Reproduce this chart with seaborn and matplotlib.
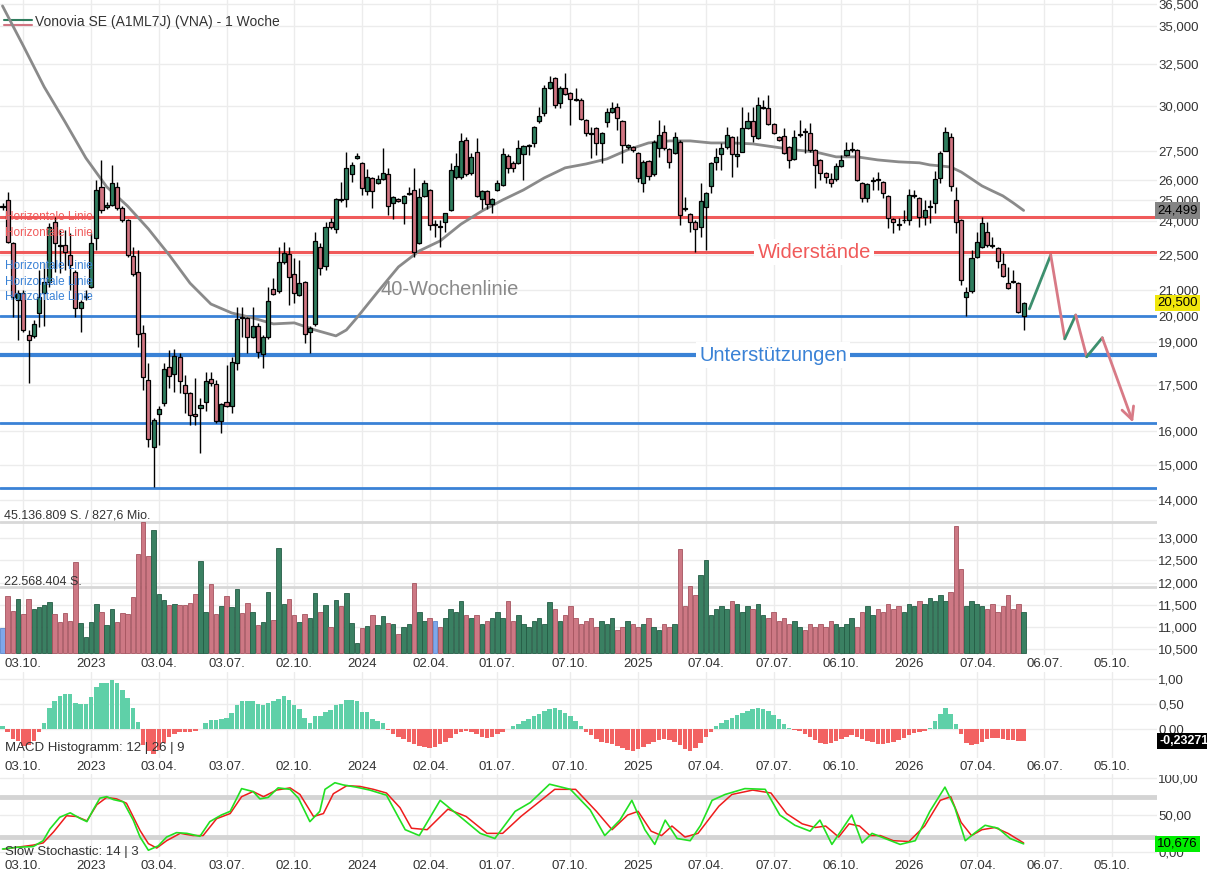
import numpy as np
import pandas as pd
import matplotlib
matplotlib.use("Agg")
import matplotlib.pyplot as plt
import matplotlib.transforms as mtransforms
from matplotlib.ticker import FixedLocator, FuncFormatter, NullLocator
import seaborn as sns

sns.set_style("white")
plt.rcParams['font.family'] = ['Liberation Sans', 'DejaVu Sans']

# weekly candles, first week starts 2022-09-05
START = pd.Timestamp("2022-09-05")

opens = [
    24.68, 25.00, 23.00, 20.61, 20.89, 19.26, 19.24, 20.09, 20.88, 21.35,
    23.97, 22.92, 22.92, 22.48, 21.77, 20.28, 20.72, 21.14, 23.22, 25.65,
    24.65, 24.76, 25.65, 24.60, 24.05, 22.44, 21.77, 19.35, 17.66, 15.53,
    16.53, 16.88, 18.10, 17.87, 18.47, 17.49, 17.21, 16.53, 16.72, 16.94,
    17.68, 17.52, 16.33, 16.94, 16.80, 18.24, 19.94, 19.90, 19.20, 19.61,
    18.57, 19.18, 21.04, 20.98, 22.17, 22.51, 21.66, 20.81, 21.32, 19.39,
    19.66, 22.85, 22.01, 23.94, 23.62, 25.02, 25.03, 26.29, 27.10, 26.84,
    25.44, 26.08, 25.82, 26.03, 26.27, 24.84, 25.03, 24.84, 25.30, 25.49,
    23.02, 25.20, 25.49, 23.82, 23.76, 23.97, 24.52, 26.13, 26.13, 28.07,
    26.32, 27.41, 25.03, 25.44, 24.79, 25.49, 25.74, 27.23, 26.87, 26.84,
    27.31, 27.73, 27.89, 29.09, 29.56, 31.02, 31.63, 30.14, 31.06, 30.72,
    30.35, 30.33, 29.18, 28.46, 28.71, 27.89, 29.05, 29.62, 29.91, 29.09,
    27.68, 27.68, 27.36, 25.85, 26.96, 26.27, 27.63, 28.52, 27.58, 27.36,
    27.98, 24.59, 24.33, 23.97, 23.74, 24.68, 25.69, 26.92, 27.33, 27.68,
    28.22, 27.20, 27.45, 28.71, 29.12, 28.16, 29.86, 29.88, 28.94, 28.22,
    28.26, 27.68, 27.05, 28.32, 28.54, 28.44, 27.54, 27.01, 26.35, 26.03,
    26.03, 26.70, 27.27, 27.52, 27.54, 25.85, 25.08, 25.92, 26.01, 25.90,
    25.20, 24.10, 23.88, 24.03, 24.05, 25.18, 25.08, 24.20, 24.66, 24.84,
    26.08, 27.50, 28.22, 25.00, 24.05, 20.74, 20.98, 22.41, 22.85, 23.51,
    22.91, 22.77, 22.09, 21.28, 21.37, 21.28, 19.99,
]
highs = [
    24.86, 25.41, 23.05, 21.01, 21.01, 19.45, 19.83, 21.84, 22.14, 23.91,
    24.20, 23.59, 23.59, 23.45, 21.84, 20.61, 21.01, 23.45, 25.99, 27.01,
    24.90, 26.75, 25.90, 24.70, 24.10, 22.85, 22.70, 19.64, 18.25, 16.40,
    16.80, 18.25, 18.71, 18.74, 18.60, 17.83, 17.25, 17.73, 17.06, 17.95,
    17.95, 17.66, 16.90, 18.18, 18.47, 20.35, 20.35, 19.95, 20.35, 19.70,
    19.25, 21.14, 21.49, 22.85, 23.07, 22.85, 22.35, 22.27, 21.40, 19.60,
    23.51, 23.00, 23.97, 24.13, 25.10, 25.90, 27.45, 26.90, 27.36, 26.90,
    26.53, 26.15, 26.24, 27.63, 26.58, 25.20, 25.10, 25.25, 25.65, 26.58,
    25.57, 25.99, 25.55, 24.05, 24.05, 24.40, 26.84, 27.36, 28.47, 28.22,
    27.36, 28.16, 25.50, 25.50, 25.10, 25.99, 27.63, 27.30, 26.95, 28.07,
    27.80, 27.85, 28.85, 29.94, 31.22, 31.73, 31.70, 31.15, 31.93, 30.80,
    31.02, 30.43, 29.25, 28.80, 28.80, 28.50, 29.85, 30.23, 30.17, 29.15,
    27.85, 27.75, 27.45, 27.00, 27.00, 28.07, 29.18, 28.90, 27.65, 28.52,
    28.05, 25.16, 24.40, 24.05, 25.85, 25.40, 26.90, 27.63, 27.89, 28.80,
    28.30, 28.26, 29.94, 29.65, 29.94, 30.52, 30.33, 30.62, 29.00, 28.30,
    28.71, 27.75, 28.62, 29.18, 28.71, 29.00, 27.60, 27.05, 26.40, 26.32,
    26.84, 27.27, 27.98, 27.98, 27.60, 25.90, 25.85, 26.15, 26.40, 25.95,
    25.25, 24.15, 24.13, 24.52, 25.53, 25.49, 25.15, 25.00, 25.00, 26.44,
    27.50, 28.80, 28.44, 25.62, 24.10, 21.14, 22.70, 23.51, 24.17, 23.97,
    23.29, 22.85, 22.56, 21.98, 21.84, 21.35, 20.55,
]
lows = [
    24.52, 23.01, 19.96, 19.08, 19.38, 17.55, 19.15, 19.58, 19.60, 21.14,
    21.77, 21.71, 21.84, 21.01, 19.96, 19.39, 20.61, 21.10, 22.70, 24.40,
    24.55, 24.70, 24.50, 23.95, 22.41, 21.60, 18.83, 17.32, 15.53, 14.37,
    15.58, 16.80, 17.39, 17.26, 17.22, 16.57, 16.20, 16.20, 15.34, 16.62,
    17.45, 16.25, 15.94, 16.75, 16.57, 18.01, 19.20, 18.60, 19.15, 18.43,
    18.07, 19.10, 20.80, 20.90, 22.10, 20.41, 20.49, 20.75, 18.98, 18.60,
    19.60, 21.63, 21.84, 23.65, 23.44, 24.90, 24.68, 25.90, 27.05, 25.25,
    25.25, 24.60, 25.78, 25.98, 24.28, 24.08, 24.90, 23.86, 25.25, 22.39,
    22.95, 25.15, 23.59, 23.29, 22.85, 23.51, 24.45, 26.05, 26.05, 26.20,
    26.25, 25.16, 24.55, 24.55, 24.36, 25.44, 25.70, 26.32, 26.37, 26.80,
    25.99, 27.27, 27.68, 29.00, 29.38, 30.95, 29.85, 29.85, 30.60, 28.90,
    30.25, 29.15, 28.26, 27.10, 27.27, 26.84, 28.80, 29.55, 28.62, 26.84,
    27.60, 27.45, 25.90, 25.41, 25.99, 26.20, 27.18, 27.55, 26.58, 27.30,
    23.82, 24.45, 23.51, 22.63, 23.29, 22.70, 25.32, 26.49, 26.49, 27.60,
    26.15, 26.66, 27.40, 28.65, 27.98, 28.10, 29.80, 28.90, 28.40, 28.00,
    27.30, 26.58, 27.00, 28.25, 27.36, 27.45, 25.57, 25.99, 25.82, 25.65,
    25.95, 26.65, 27.20, 27.45, 25.95, 24.92, 24.92, 25.49, 25.49, 25.08,
    23.67, 23.47, 23.59, 23.89, 23.82, 25.10, 23.74, 23.82, 23.89, 24.36,
    25.85, 27.50, 25.46, 23.44, 21.21, 19.99, 20.90, 22.35, 22.80, 22.85,
    22.80, 21.91, 21.55, 21.05, 21.30, 20.10, 19.45,
]
closes = [
    24.68, 23.07, 20.74, 20.90, 19.45, 19.08, 19.68, 20.74, 21.35, 23.74,
    23.00, 22.86, 22.63, 22.05, 20.28, 20.54, 20.76, 23.02, 25.49, 24.52,
    24.76, 25.82, 24.60, 24.05, 22.48, 21.67, 19.30, 17.76, 15.75, 16.35,
    16.69, 18.03, 17.78, 18.50, 17.63, 17.21, 16.51, 16.49, 16.83, 17.63,
    17.55, 16.33, 16.85, 16.80, 18.27, 19.86, 19.90, 19.20, 19.61, 18.63,
    19.20, 20.58, 20.85, 22.17, 22.56, 21.53, 20.88, 21.28, 19.30, 19.53,
    23.10, 21.91, 23.71, 23.71, 25.03, 24.98, 26.58, 26.75, 27.22, 25.57,
    26.13, 25.44, 26.03, 26.32, 24.71, 25.13, 24.95, 25.20, 25.34, 22.63,
    25.16, 25.82, 23.82, 23.82, 23.72, 24.36, 26.49, 26.70, 28.02, 26.27,
    27.15, 25.20, 25.44, 24.79, 25.03, 25.82, 27.31, 26.61, 26.61, 27.63,
    27.72, 27.77, 28.77, 29.38, 31.02, 31.42, 30.04, 31.06, 30.66, 30.37,
    30.31, 29.22, 28.47, 28.42, 27.89, 28.44, 29.60, 29.85, 29.27, 27.80,
    27.80, 27.54, 26.08, 26.92, 26.19, 27.98, 28.34, 27.63, 26.89, 28.22,
    24.28, 24.55, 23.97, 23.62, 24.97, 25.32, 26.84, 27.15, 27.63, 28.34,
    27.33, 27.31, 28.71, 29.12, 28.29, 30.04, 29.90, 28.94, 28.47, 28.07,
    27.36, 27.01, 28.22, 28.36, 28.50, 27.54, 26.75, 26.35, 26.13, 25.85,
    26.70, 27.01, 27.54, 27.56, 25.99, 25.08, 25.77, 25.96, 25.97, 25.35,
    24.13, 23.94, 23.84, 24.07, 25.25, 25.22, 24.20, 24.52, 24.70, 26.03,
    27.36, 28.52, 25.69, 23.94, 21.42, 20.94, 22.34, 23.04, 23.89, 22.92,
    22.87, 22.20, 21.59, 21.08, 21.33, 20.15, 20.50,
]

# volume in million shares
volume = [
    8.7, 19.7, 14.4, 18.7, 13.5, 18.6, 15.0, 15.7, 16.6, 17.4,
    13.4, 10.6, 13.8, 11.1, 31.5, 10.2, 5.3, 10.5, 16.7, 14.0,
    9.5, 15.0, 10.6, 13.6, 13.4, 19.2, 34.2, 45.1, 33.5, 42.4,
    20.3, 18.2, 16.5, 16.7, 16.5, 16.4, 17.2, 20.4, 31.7, 14.0,
    23.9, 13.3, 16.2, 19.5, 15.9, 22.0, 13.7, 17.2, 14.0, 9.6,
    10.5, 20.9, 11.2, 36.4, 16.7, 18.5, 12.9, 10.7, 13.4, 11.9,
    20.7, 14.0, 16.4, 8.8, 18.2, 16.2, 20.7, 10.3, 3.2, 8.4,
    9.2, 13.0, 9.6, 12.6, 10.4, 9.8, 6.5,
    9, 10, 24, 14, 11, 12, 11,
    9, 12, 15, 14, 18, 13, 12,
    13, 10, 11, 12, 14, 12, 18, 11, 13, 10,
    9, 11, 12, 10, 17.5, 15, 11, 13, 16, 12,
    10, 11, 12, 9, 11, 10, 12, 8, 9, 11,
    10, 9, 10, 12, 9, 8, 10, 9, 10,
    36, 16, 23, 20, 27, 32, 13,
    15, 16, 15, 18, 17, 14, 16, 15, 17,
    13, 12, 14, 11, 12, 10, 11, 9, 8, 10,
    9, 10, 9, 11, 10, 9, 10, 12, 9, 14,
    16, 13, 15, 14, 17, 15, 16, 14, 17, 16, 18,
    17, 19, 18, 20, 18, 21,
    44, 29, 16, 18, 17, 16, 15, 17, 14, 16, 20, 15, 17, 14,
]

macd_hist = [
    0.05, -0.06, -0.19, -0.24, -0.33, -0.31, -0.24, -0.06, 0.11, 0.41,
    0.56, 0.66, 0.69, 0.69, 0.51, 0.49, 0.49, 0.63, 0.84, 0.91,
    0.92, 0.97, 0.91, 0.78, 0.61, 0.41, 0.13, -0.31, -0.44, -0.49,
    -0.41, -0.28, -0.16, -0.09, -0.06, -0.06, -0.05, -0.04, 0.01, 0.11,
    0.17, 0.18, 0.20, 0.22, 0.31, 0.48, 0.56, 0.56, 0.56, 0.49,
    0.48, 0.51, 0.55, 0.59, 0.66, 0.58, 0.47, 0.39, 0.22, 0.11,
    0.25, 0.25, 0.34, 0.38, 0.47, 0.50, 0.58, 0.58, 0.55, 0.34,
    0.34, 0.19, 0.16, 0.11, -0.01, -0.09, -0.16,
    -0.20, -0.26, -0.30, -0.33, -0.35, -0.37,
    -0.36, -0.30, -0.25, -0.18, -0.10, -0.05,
    -0.04, -0.06, -0.10, -0.16, -0.18, -0.15, -0.10,
    -0.05, 0.00, 0.05, 0.10, 0.15,
    0.20, 0.25, 0.30, 0.35, 0.40, 0.42, 0.38, 0.32, 0.25, 0.15,
    0.05, -0.05, -0.12,
    -0.20, -0.26, -0.28, -0.30, -0.34, -0.38, -0.42, -0.44, -0.40, -0.36, -0.30,
    -0.26, -0.22, -0.20, -0.22, -0.25,
    -0.32, -0.40, -0.44, -0.38, -0.28,
    -0.15, -0.05, 0.05,
    0.12, 0.18, 0.22, 0.28, 0.32, 0.36, 0.40, 0.42, 0.40, 0.36, 0.28, 0.20, 0.10,
    0.02, -0.02, -0.04,
    -0.10, -0.16, -0.22, -0.28, -0.30, -0.28, -0.24, -0.20, -0.15,
    -0.12, -0.15, -0.20, -0.24,
    -0.26, -0.30, -0.30, -0.28, -0.26, -0.22, -0.18, -0.12,
    -0.08, -0.05, -0.04, 0.02,
    0.15, 0.30, 0.42, 0.30,
    0.10, -0.10, -0.28, -0.32, -0.30, -0.25, -0.20, -0.18, -0.18, -0.20, -0.22, -0.22, -0.23, -0.23,
]

# 40-week line, read at selected weeks
ma_week = [0, 4, 8, 12, 16, 20, 24, 28, 32, 36, 40, 44, 48, 52, 56, 60, 64, 66, 68,
           72, 76, 80, 84, 88, 92, 96, 100, 104, 108, 112, 116, 120, 124, 128, 132,
           136, 140, 144, 148, 152, 156, 160, 164, 168, 172, 176, 178, 180, 182, 184,
           186, 188, 190, 192, 194, 196]
ma_value = [36.36, 33.66, 31.10, 29.07, 27.11, 25.64, 24.71, 23.64, 22.48, 21.29,
            20.45, 20.10, 19.91, 19.68, 19.72, 19.45, 19.23, 19.45, 19.91,
            20.93, 21.97, 22.66, 23.10, 23.86, 24.47, 25.00, 25.49, 26.09, 26.60,
            26.80, 27.06, 27.54, 27.91, 28.02, 28.02, 27.91, 27.91, 27.86, 27.70,
            27.54, 27.43, 27.17, 27.17, 27.01, 26.91, 26.86, 26.75, 26.70, 26.64,
            26.39, 26.04, 25.69, 25.44, 25.20, 24.86, 24.50]

# slow stochastic 14|3 (green %K, red %D)
k_week = [0, 2.7, 5.9, 7.8, 9.1, 11, 13, 15, 16.2, 17.4, 18.7, 20, 21.3, 23.2, 25.1,
          26.4, 28, 29.9, 31.5, 33.4, 35.4, 37.9, 39.8, 42, 43.7, 45.9, 48.1, 49.4,
          51, 52.9, 55.2, 56.8, 59, 60.9, 61.9, 63.8, 65.4, 67.9, 70.5, 73.7, 76.3,
          77.3, 80, 84, 87.8, 91.7, 94.5, 98.4, 101.3, 105, 109, 112.8, 115.6, 118.5,
          120.8, 123.3, 125.2, 127.2, 129.5, 132, 134, 136.2, 138.7, 142.5, 146.4,
          149.2, 152.1, 155, 156.9, 159.2, 161.1, 163, 165, 166.9, 169.4, 172.3,
          175.2, 178, 180.9, 182.8, 184.8, 186.7, 188.6, 191.1, 193.4, 196]
k_value = [3.7, 6, 7, 15, 31, 47, 53, 45, 41, 57, 73, 75, 71, 68, 43,
           20, 2, 8, 20, 26, 25, 21, 41, 50, 55, 86, 82, 72,
           74, 87, 85, 73, 41, 55, 85, 94, 91, 88, 84, 77, 43,
           30, 22, 70, 48, 25, 18, 55, 67, 92, 85, 57, 22, 43,
           70, 30, 10, 43, 18, 15, 36, 70, 78, 86, 85,
           50, 36, 28, 43, 10, 30, 50, 12, 25, 18, 10,
           15, 55, 88, 60, 15, 26, 36, 32, 18, 10.7]
d_week = [0.2, 5.9, 7.8, 9.8, 12.3, 14.2, 16.2, 18.1, 20, 21.9, 23.8, 26.4, 28, 29.6,
          31.5, 34.1, 36.6, 38.5, 41.1, 43.7, 45.9, 48.1, 50.1, 52.6, 55.2, 57.1,
          59.7, 61.6, 63.5, 66.1, 68.6, 71.2, 73.7, 76.3, 78.5, 81.5, 85.5, 89, 93,
          96, 99.5, 102.5, 106, 110, 114, 117, 120, 122, 124.5, 126.5, 128.5, 131,
          133.5, 137.5, 140, 144, 147.5, 150.5, 153.5, 156, 158, 160.5, 162.5, 164.5,
          166.5, 168.5, 171, 174, 177, 180, 182, 184, 186, 188, 190.5, 193, 196]
d_value = [3.7, 9, 12, 27, 49, 48, 42, 64, 74, 72, 66, 29, 11, 5,
           15, 25, 22, 22, 45, 52, 75, 82, 75, 84, 87, 78,
           48, 52, 79, 90, 89, 85, 80, 60, 32, 30, 58, 48, 25,
           25, 48, 65, 85, 85, 55, 30, 50, 55, 28, 22, 35, 20,
           25, 62, 78, 84, 80, 52, 38, 33, 35, 20, 38, 35,
           22, 22, 15, 14, 35, 70, 75, 40, 22, 30, 33, 25, 12]

# drawn forecast path (week, price)
path_week = [197.1, 201.2, 203.9, 206.0, 208.1, 211.1, 217.0]
path_price = [20.26, 22.48, 19.12, 20.02, 18.47, 19.16, 16.27]

resist_levels = [24.20, 22.61]
support_levels = [19.99, 18.53, 16.25, 14.33]
price_ticks = [14, 15, 16, 17.5, 19, 20, 21, 22.5, 24, 25, 26, 27.5, 30, 32.5, 35, 36.5]
vol_scale_ticks = [10.5, 11, 11.5, 12, 12.5, 13]

tick_dates = ["2022-10-03", "2023-01-02", "2023-04-03", "2023-07-03", "2023-10-02",
              "2024-01-01", "2024-04-02", "2024-07-01", "2024-10-07", "2025-01-06",
              "2025-04-07", "2025-07-07", "2025-10-06", "2026-01-05", "2026-04-07",
              "2026-07-06", "2026-10-05"]
tick_labels = ["03.10.", "2023", "03.04.", "03.07.", "02.10.", "2024", "02.04.",
               "01.07.", "07.10.", "2025", "07.04.", "07.07.", "06.10.", "2026",
               "07.04.", "06.07.", "05.10."]

for name, arr in [("opens", opens), ("highs", highs), ("lows", lows), ("closes", closes),
                  ("volume", volume), ("macd", macd_hist)]:
    if len(arr) != len(closes):
        print("length mismatch", name, len(arr), len(closes))

# colours
GREEN = "#2f7d5e"
RED = "#d17582"
VGREEN = "#3a8062"
VRED = "#cd7884"
BLUE_BAR = "#7fa7ea"
MGREEN = "#5fd0a8"
MRED = "#f26262"
LRED = "#f05a5a"
LBLUE = "#3a82d6"
GRID = "#ececec"
TXT = "#333333"


def de(v, d):
    return f"{v:.{d}f}".replace(".", ",")


W, H = 1207, 877
fig = plt.figure(figsize=(W / 100, H / 100), dpi=100)


def box(x0, y0, x1, y1):
    return [x0 / W, 1 - y1 / H, (x1 - x0) / W, (y1 - y0) / H]


def clip_labels(a, top_px, bottom_px):
    # cut the right-hand labels at the panel's top edge, as the reference does
    cb = mtransforms.TransformedBbox(
        mtransforms.Bbox.from_extents(0, 1 - bottom_px / H, 1, 1 - top_px / H),
        fig.transFigure)
    for t in a.yaxis.get_major_ticks():
        t.label2.set_clip_box(cb)
        t.label2.set_clip_on(True)


ax = fig.add_axes(box(0, 0, 1157, 507))
axv = fig.add_axes(box(0, 507, 1157, 655))
axm = fig.add_axes(box(0, 672, 1157, 758))
axs = fig.add_axes(box(0, 774, 1157, 857))

n = len(closes)
x = np.arange(n)
o = np.array(opens)
c = np.array(closes)
hi = np.array(highs)
lo = np.array(lows)
up = c > o
dn = c < o

xlim = (-0.48, 221.6)
tick_pos = ((pd.to_datetime(tick_dates) - START).days / 7).to_numpy()

for a in (ax, axv, axm, axs):
    a.set_xlim(*xlim)
    for s in a.spines.values():
        s.set_visible(False)
    a.set_xticks(tick_pos)
    a.grid(True, color=GRID, lw=1)
    a.set_axisbelow(True)
    a.yaxis.tick_right()
    a.tick_params(axis="y", length=0, pad=1, labelsize=9.5, labelcolor=TXT)
    a.tick_params(axis="x", length=0, pad=2, labelsize=9.5, labelcolor=TXT)

for a in (axv, axm, axs):
    a.set_xticklabels(tick_labels)
ax.set_xticklabels([])

# ---- price panel
ax.set_yscale("log")
ax.set_ylim(13.82, 36.78)
ax.yaxis.set_major_locator(FixedLocator(price_ticks))
ax.yaxis.set_minor_locator(NullLocator())
ax.yaxis.set_major_formatter(FuncFormatter(lambda v, _: de(v, 3)))

for lvl in resist_levels:
    ax.axhline(lvl, color=LRED, lw=2.2, zorder=2)
for k, lvl in enumerate(support_levels):
    ax.axhline(lvl, color=LBLUE, lw=3 if k == 1 else 2, zorder=2)

sns.lineplot(x=ma_week, y=ma_value, ax=ax, color="#8a8a8a", lw=2, zorder=3, legend=False)

ax.vlines(x, lo, hi, color="black", lw=1, zorder=4)
body_lo = np.minimum(o, c)
body_h = np.maximum(np.abs(c - o), body_lo * 0.0018)
body_col = np.where(up, GREEN, np.where(dn, RED, "black"))
ax.bar(x, body_h, bottom=body_lo, width=0.78, color=body_col, edgecolor="black",
       linewidth=0.9, zorder=5)

seg_cols = ["#3d8f6e", "#d87a86"]
for k in range(len(path_week) - 2):
    sns.lineplot(x=path_week[k:k + 2], y=path_price[k:k + 2], ax=ax,
                 color=seg_cols[k % 2], lw=2, zorder=4, legend=False)
ax.annotate("", xy=(path_week[-1], path_price[-1]), xytext=(path_week[-2], path_price[-2]),
            arrowprops=dict(arrowstyle="->", color=seg_cols[1], lw=2, mutation_scale=22,
                            shrinkA=0, shrinkB=0), zorder=4)

ax.text(155.8, resist_levels[1], "Widerstände", color=LRED, fontsize=14.5,
        ha="center", va="center", zorder=6,
        bbox=dict(fc="white", ec="none", pad=2.5))
ax.text(147.9, support_levels[1], "Unterstützungen", color=LBLUE, fontsize=14.5,
        ha="center", va="center", zorder=6,
        bbox=dict(fc="white", ec="none", pad=2.5))
ax.text(72.5, 21.05, "40-Wochenlinie", color="#8a8a8a", fontsize=14.5,
        ha="left", va="center", zorder=6)

for yv in [24.20, 23.45]:
    ax.text(0.5, yv, "Horizontale Linie", color=LRED, fontsize=8.5, ha="left",
            va="center", zorder=6)
for yv in [22.01, 21.34, 20.73]:
    ax.text(0.5, yv, "Horizontale Linie", color=LBLUE, fontsize=8.5, ha="left",
            va="center", zorder=6)

# legend-like title
tr = ax.transAxes
ax.plot([4 / 1157, 32 / 1157], [1 - 20 / 507] * 2, transform=tr, color=GREEN, lw=1.5)
ax.plot([4 / 1157, 32 / 1157], [1 - 24.5 / 507] * 2, transform=tr, color=RED, lw=1.5)
ax.text(35 / 1157, 1 - 22 / 507, "Vonovia SE (A1ML7J) (VNA) - 1 Woche", transform=tr,
        fontsize=10, color=TXT, ha="left", va="center")

blend = mtransforms.blended_transform_factory(ax.transAxes, ax.transData)
ax.text(1.0, ma_value[-1] - 0.001, de(24.499, 3), transform=blend, fontsize=9.5,
        color="black", ha="left", va="center", zorder=7,
        bbox=dict(fc="#848484", ec="none", pad=1.5))
ax.text(1.0, closes[-1], de(closes[-1], 3), transform=blend, fontsize=9.5,
        color="black", ha="left", va="center", zorder=7,
        bbox=dict(fc="#f0e60c", ec="none", pad=1.5))

# ---- volume panel
vol = np.array(volume)
vcol = np.where(up, VGREEN, np.where(dn, VRED, BLUE_BAR))
vedge = np.where(up, "#245c45", np.where(dn, "#a5545f", "#5b86cc"))
axv.bar(x, vol, width=0.86, color=vcol, edgecolor=vedge, linewidth=0.6, zorder=3)
axv.set_ylim(-0.80, 50.43)
axv.set_yticks([])
axv.axhline(45.137, color="#d8d8d8", lw=2, zorder=2)
axv.axhline(45.137 / 2, color="#d8d8d8", lw=2, zorder=2)
axv.text(0.2, 47.4, "45.136.809 S. / 827,6 Mio.", fontsize=9, color=TXT,
         ha="left", va="center", zorder=6)
axv.text(0.2, 24.5, "22.568.404 S.", fontsize=9, color=TXT,
         ha="left", va="center", zorder=6)
axv2 = axv.twinx()
axv2.set_ylim(10.37, 13.705)
axv2.set_yticks(vol_scale_ticks)
axv2.yaxis.set_major_formatter(FuncFormatter(lambda v, _: de(v, 3)))
axv2.tick_params(axis="y", length=0, pad=1, labelsize=9.5, labelcolor=TXT)
axv2.grid(True, axis="y", color=GRID, lw=1)
axv2.set_zorder(0)
axv.set_zorder(1)
axv.patch.set_visible(False)
for s in axv2.spines.values():
    s.set_visible(False)

# ---- MACD histogram
mh = np.array(macd_hist)
axm.bar(x, mh, width=0.86, color=np.where(mh >= 0, MGREEN, MRED), linewidth=0, zorder=3)
axm.set_ylim(-0.574, 1.129)
axm.set_yticks([0, 0.5, 1.0])
axm.yaxis.set_major_formatter(FuncFormatter(lambda v, _: de(v, 2)))
axm.text(0.5, -0.38, "MACD Histogramm: 12 | 26 | 9", fontsize=9.5, color=TXT,
         ha="left", va="center", zorder=6)
bm = mtransforms.blended_transform_factory(axm.transAxes, axm.transData)
axm.text(1.002, -0.23271, "-0,23271", transform=bm, fontsize=9, color="white",
         fontweight="bold", ha="left", va="center", zorder=7,
         bbox=dict(fc="black", ec="none", pad=1.5))

# ---- slow stochastic
axs.set_ylim(-7.2, 105.9)
axs.set_yticks([0, 50, 100])
axs.yaxis.set_major_formatter(FuncFormatter(lambda v, _: de(v, 2)))
axs.axhline(75, color="#d4d4d4", lw=3.5, zorder=2)
axs.axhline(20, color="#d4d4d4", lw=3.5, zorder=2)
sns.lineplot(x=d_week, y=d_value, ax=axs, color="#ee1c1c", lw=1.1, zorder=3, legend=False)
sns.lineplot(x=k_week, y=k_value, ax=axs, color="#22e022", lw=1.2, zorder=4, legend=False)
axs.text(0.5, 0, "Slow Stochastic: 14 | 3", fontsize=9.5, color=TXT, ha="left",
         va="center", zorder=6)
bs = mtransforms.blended_transform_factory(axs.transAxes, axs.transData)
axs.text(1.0, 10.676, "10,676", transform=bs, fontsize=9.5, color="black",
         ha="left", va="center", zorder=7, bbox=dict(fc="#00ee00", ec="none", pad=1.5))

for a in (ax, axv, axm, axs):
    a.set_xlabel("")
    a.set_ylabel("")
axv2.set_ylabel("")

# ticks exist after a first draw; clip their labels, then save
fig.canvas.draw()
clip_labels(axm, 673, 800)
clip_labels(axs, 775, 877)

fig.savefig("out.png", dpi=100)
